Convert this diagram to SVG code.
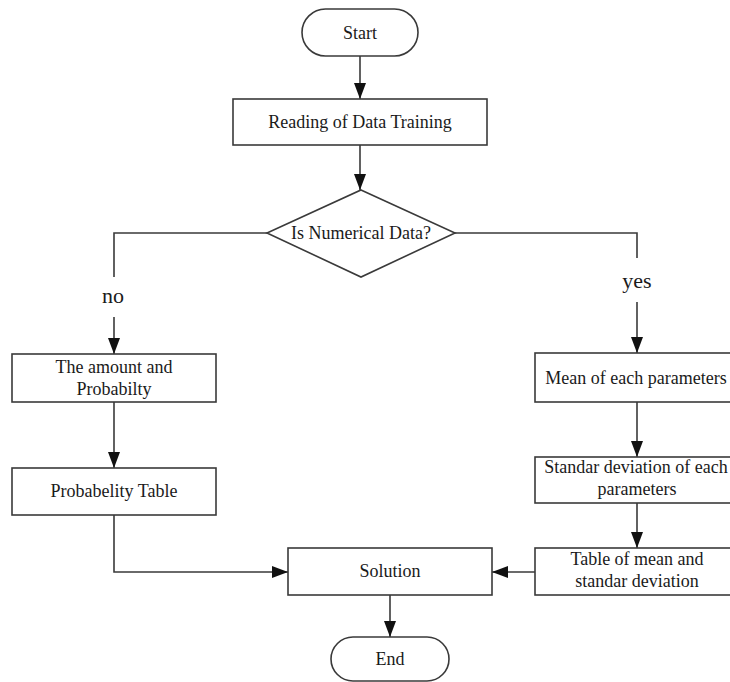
<svg xmlns="http://www.w3.org/2000/svg" width="730" height="682" viewBox="0 0 730 682">
<style>
.box{fill:#fff;stroke:#3a3a3a;stroke-width:1.6}
.ln{fill:none;stroke:#3a3a3a;stroke-width:1.6}
.arr{marker-end:url(#ah)}
text{font-family:"Liberation Serif","Times New Roman",serif;font-size:18px;fill:#1a1a1a;text-anchor:middle}
.lbl{font-size:22px}
</style>
<defs>
<marker id="ah" markerUnits="userSpaceOnUse" viewBox="0 0 16 12" markerWidth="16" markerHeight="12" refX="16" refY="6" orient="auto">
<path d="M0,0 L16,6 L0,12 z" fill="#111"/>
</marker>
</defs>
<rect width="730" height="682" fill="#fff"/>
<g id="connectors">
<path class="ln arr" d="M360,56 V99"/>
<path class="ln arr" d="M360,145 V190"/>
<path class="ln" d="M267,233 H114 V277"/>
<path class="ln arr" d="M114,317 V354"/>
<path class="ln" d="M455,233 H637 V258"/>
<path class="ln arr" d="M637,302 V353"/>
<path class="ln arr" d="M114,402 V468"/>
<path class="ln arr" d="M114,515 V572 H288"/>
<path class="ln arr" d="M637,402 V457"/>
<path class="ln arr" d="M637,503 V548"/>
<path class="ln arr" d="M535,572 H492"/>
<path class="ln arr" d="M390,595 V637"/>
<text class="lbl" x="113" y="303">no</text>
<text class="lbl" x="637" y="288">yes</text>
</g>
<g id="start">
<rect class="box" x="302" y="9" width="116" height="47" rx="23.5"/>
<text x="360" y="39">Start</text>
</g>
<g id="reading">
<rect class="box" x="233" y="99" width="254" height="46"/>
<text x="360" y="128">Reading of Data Training</text>
</g>
<g id="decision">
<polygon class="box" points="361,190 455,233 361,277 267,233"/>
<text x="361" y="239">Is Numerical Data?</text>
</g>
<g id="amount">
<rect class="box" x="12" y="354" width="204" height="48"/>
<text x="114" y="373">The amount and</text>
<text x="114" y="395">Probabilty</text>
</g>
<g id="probtable">
<rect class="box" x="12" y="468" width="204" height="47"/>
<text x="114" y="497">Probabelity Table</text>
</g>
<g id="mean">
<rect class="box" x="535" y="353" width="205" height="49"/>
<text x="636" y="384">Mean of each parameters</text>
</g>
<g id="stddev">
<rect class="box" x="535" y="457" width="205" height="46"/>
<text x="636" y="473">Standar deviation of each</text>
<text x="637" y="495">parameters</text>
</g>
<g id="tablemean">
<rect class="box" x="535" y="548" width="205" height="47"/>
<text x="637" y="565">Table of mean and</text>
<text x="637" y="587">standar deviation</text>
</g>
<g id="solution">
<rect class="box" x="288" y="548" width="204" height="47"/>
<text x="390" y="577">Solution</text>
</g>
<g id="end">
<rect class="box" x="331" y="637" width="118" height="44" rx="22"/>
<text x="390" y="665">End</text>
</g>
</svg>
